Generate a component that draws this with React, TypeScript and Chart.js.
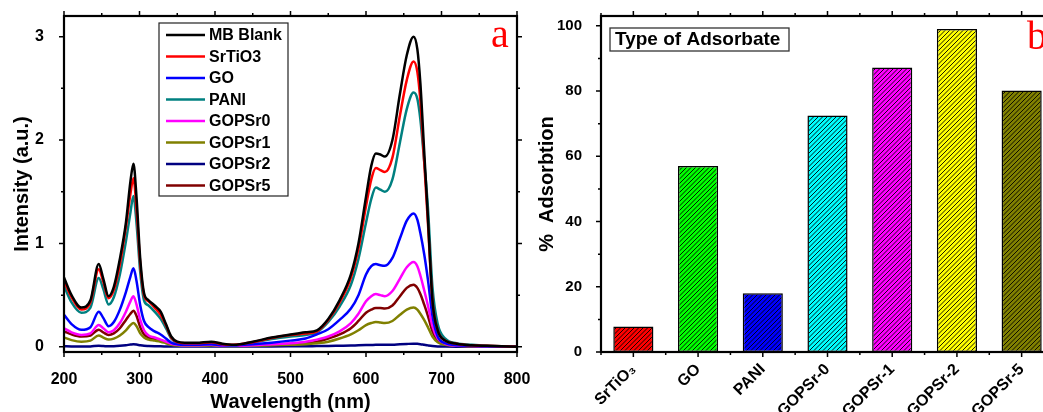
import React, { useEffect, useRef } from 'react';
import { Chart, registerables } from 'chart.js';

Chart.register(...registerables);

// ---------- Panel (a) data ----------
const WAVELENGTH = [200, 210, 223, 235, 246, 252, 259, 266, 274, 282, 288, 292, 296, 301, 306, 312, 320, 328, 335, 342, 350, 360, 375, 395, 410, 425, 450, 475, 500, 520, 535, 550, 565, 580, 590, 600, 607, 613, 619, 625, 635, 645, 654, 663, 668, 672, 677, 682, 688, 695, 705, 720, 740, 760, 800];
const MB_BLANK = [0.67, 0.50, 0.38, 0.45, 0.80, 0.66, 0.49, 0.58, 0.85, 1.20, 1.60, 1.77, 1.45, 0.85, 0.52, 0.45, 0.40, 0.34, 0.22, 0.10, 0.05, 0.04, 0.04, 0.05, 0.03, 0.02, 0.05, 0.09, 0.12, 0.14, 0.16, 0.27, 0.45, 0.70, 1.00, 1.45, 1.75, 1.87, 1.86, 1.84, 2.00, 2.45, 2.82, 3.00, 2.88, 2.55, 1.90, 1.25, 0.45, 0.16, 0.06, 0.03, 0.015, 0.01, 0.0];
const SRTIO3 = [0.64, 0.48, 0.36, 0.43, 0.75, 0.63, 0.47, 0.55, 0.80, 1.16, 1.48, 1.63, 1.34, 0.80, 0.50, 0.44, 0.38, 0.31, 0.21, 0.09, 0.045, 0.035, 0.035, 0.045, 0.025, 0.02, 0.045, 0.085, 0.115, 0.13, 0.15, 0.26, 0.43, 0.67, 0.95, 1.36, 1.62, 1.73, 1.71, 1.69, 1.83, 2.24, 2.58, 2.76, 2.66, 2.38, 1.80, 1.20, 0.45, 0.16, 0.06, 0.03, 0.015, 0.01, 0.0];
const GO = [0.31, 0.22, 0.165, 0.19, 0.34, 0.28, 0.20, 0.24, 0.36, 0.53, 0.68, 0.76, 0.64, 0.40, 0.25, 0.19, 0.15, 0.12, 0.08, 0.04, 0.025, 0.02, 0.02, 0.025, 0.015, 0.015, 0.025, 0.04, 0.06, 0.08, 0.12, 0.17, 0.26, 0.37, 0.50, 0.70, 0.78, 0.80, 0.79, 0.785, 0.86, 1.05, 1.22, 1.29, 1.23, 1.10, 0.90, 0.65, 0.30, 0.10, 0.035, 0.015, 0.01, 0.005, 0.0];
const PANI = [0.59, 0.43, 0.33, 0.38, 0.665, 0.56, 0.41, 0.48, 0.70, 1.02, 1.30, 1.46, 1.20, 0.72, 0.45, 0.40, 0.34, 0.27, 0.18, 0.08, 0.04, 0.03, 0.03, 0.04, 0.02, 0.015, 0.04, 0.075, 0.10, 0.115, 0.14, 0.24, 0.39, 0.60, 0.85, 1.20, 1.43, 1.54, 1.52, 1.50, 1.62, 1.98, 2.30, 2.46, 2.40, 2.20, 1.80, 1.35, 0.58, 0.22, 0.08, 0.035, 0.02, 0.01, 0.0];
const GOPSR0 = [0.18, 0.14, 0.115, 0.13, 0.21, 0.18, 0.14, 0.16, 0.23, 0.34, 0.44, 0.49, 0.41, 0.26, 0.16, 0.11, 0.09, 0.07, 0.05, 0.03, 0.02, 0.015, 0.015, 0.02, 0.01, 0.01, 0.015, 0.025, 0.035, 0.05, 0.07, 0.10, 0.15, 0.23, 0.32, 0.44, 0.49, 0.51, 0.50, 0.49, 0.54, 0.66, 0.77, 0.82, 0.78, 0.69, 0.55, 0.40, 0.20, 0.08, 0.03, 0.012, 0.008, 0.005, 0.0];
const GOPSR1 = [0.09, 0.065, 0.05, 0.06, 0.11, 0.09, 0.07, 0.08, 0.11, 0.16, 0.21, 0.23, 0.20, 0.13, 0.09, 0.07, 0.06, 0.05, 0.035, 0.02, 0.012, 0.01, 0.01, 0.012, 0.008, 0.008, 0.01, 0.015, 0.02, 0.025, 0.035, 0.05, 0.08, 0.12, 0.16, 0.21, 0.23, 0.24, 0.235, 0.23, 0.25, 0.31, 0.36, 0.38, 0.36, 0.32, 0.26, 0.19, 0.10, 0.045, 0.02, 0.01, 0.006, 0.004, 0.0];
const GOPSR2 = [0.005, 0.004, 0.003, 0.004, 0.01, 0.008, 0.005, 0.006, 0.01, 0.016, 0.022, 0.025, 0.022, 0.015, 0.01, 0.008, 0.006, 0.005, 0.004, 0.003, 0.002, 0.002, 0.002, 0.003, 0.002, 0.002, 0.003, 0.004, 0.005, 0.006, 0.007, 0.008, 0.01, 0.012, 0.015, 0.017, 0.018, 0.019, 0.019, 0.019, 0.021, 0.025, 0.028, 0.03, 0.029, 0.026, 0.02, 0.014, 0.008, 0.004, 0.002, 0.001, 0.001, 0.0, 0.0];
const GOPSR5 = [0.15, 0.12, 0.10, 0.11, 0.165, 0.14, 0.115, 0.13, 0.18, 0.26, 0.32, 0.35, 0.30, 0.19, 0.12, 0.09, 0.075, 0.06, 0.045, 0.025, 0.015, 0.012, 0.012, 0.015, 0.01, 0.01, 0.012, 0.02, 0.03, 0.035, 0.05, 0.08, 0.12, 0.18, 0.25, 0.33, 0.36, 0.375, 0.375, 0.37, 0.40, 0.49, 0.57, 0.60, 0.57, 0.51, 0.41, 0.30, 0.15, 0.06, 0.025, 0.01, 0.008, 0.005, 0.0];

const SERIES_LABELS = ['MB Blank', 'SrTiO3', 'GO', 'PANI', 'GOPSr0', 'GOPSr1', 'GOPSr2', 'GOPSr5'];
const SERIES_VALUES = [MB_BLANK, SRTIO3, GO, PANI, GOPSR0, GOPSR1, GOPSR2, GOPSR5];
const SERIES_COLORS = ['#000000', '#FF0000', '#0000FF', '#008080', '#FF00FF', '#808000', '#000080', '#800000'];
const SPEC_X_TICKS = [200, 300, 400, 500, 600, 700, 800];
const SPEC_X_MINOR = [250, 350, 450, 550, 650, 750];
const SPEC_Y_TICKS = [0, 1, 2, 3];
const SPEC_Y_MINOR = [0.5, 1.5, 2.5];

// ---------- Panel (b) data ----------
const BAR_CATEGORIES = ['SrTiO₃', 'GO', 'PANI', 'GOPSr-0', 'GOPSr-1', 'GOPSr-2', 'GOPSr-5'];
const BAR_VALUES = [7.8, 57, 18, 72.5, 87.2, 99, 80.2];
const BAR_COLORS = ['#FF0000', '#00FF00', '#0000FF', '#00FFFF', '#FF00FF', '#FFFF00', '#808000'];
const BAR_Y_TICKS = [0, 20, 40, 60, 80, 100];
const BAR_Y_MINOR = [10, 30, 50, 70, 90];

const FONT = "'Liberation Sans', Arial, sans-serif";
const SERIF = "'Liberation Serif', 'Times New Roman', serif";

function hatch(color: string): CanvasPattern | string {
  const s = 9;
  const c = document.createElement('canvas');
  c.width = s;
  c.height = s;
  const g = c.getContext('2d');
  if (!g) return color;
  g.fillStyle = color;
  g.fillRect(0, 0, s, s);
  g.strokeStyle = '#000';
  g.lineWidth = 0.9;
  for (let k = -2; k <= 6; k++) {
    const cc = k * 4.5;
    g.beginPath();
    g.moveTo(cc - s, s + s);
    g.lineTo(cc + s + s, -s);
    g.stroke();
  }
  const p = g.createPattern(c, 'repeat');
  return p || color;
}

function framePlugin(xMajor: number[], xMinor: number[], yMajor: number[], yMinor: number[]) {
  return {
    id: 'frameTicks',
    afterDraw(chart: any) {
      const { ctx, chartArea: a, scales } = chart;
      const xs = scales.x;
      const ys = scales.y;
      ctx.save();
      ctx.strokeStyle = '#000';
      ctx.lineWidth = 1.5;
      const tx = (vals: number[], len: number) => {
        vals.forEach((v) => {
          const p = xs.getPixelForValue(v);
          ctx.beginPath();
          ctx.moveTo(p, a.bottom);
          ctx.lineTo(p, a.bottom + len);
          ctx.moveTo(p, a.top);
          ctx.lineTo(p, a.top - len);
          ctx.stroke();
        });
      };
      const ty = (vals: number[], len: number) => {
        vals.forEach((v) => {
          const p = ys.getPixelForValue(v);
          ctx.beginPath();
          ctx.moveTo(a.left, p);
          ctx.lineTo(a.left - len, p);
          ctx.moveTo(a.right, p);
          ctx.lineTo(a.right + len, p);
          ctx.stroke();
        });
      };
      tx(xMajor, 5);
      tx(xMinor, 3);
      ty(yMajor, 5);
      ty(yMinor, 3);
      ctx.lineWidth = 2.2;
      ctx.strokeRect(a.left, a.top, a.right - a.left, a.bottom - a.top);
      ctx.restore();
    },
  };
}

function SpectraChart() {
  const ref = useRef<HTMLCanvasElement>(null);
  useEffect(() => {
    if (!ref.current) return;
    const legendPlugin = {
      id: 'boxLegend',
      afterDraw(chart: any) {
        const { ctx } = chart;
        ctx.save();
        ctx.fillStyle = '#fff';
        ctx.fillRect(159, 23, 129, 173);
        ctx.strokeStyle = '#222';
        ctx.lineWidth = 1.2;
        ctx.strokeRect(159, 23, 129, 173);
        ctx.font = `bold 16px ${FONT}`;
        ctx.textBaseline = 'middle';
        ctx.textAlign = 'left';
        chart.data.datasets.forEach((ds: any, i: number) => {
          const y = 35 + i * 21.5;
          ctx.strokeStyle = ds.borderColor;
          ctx.lineWidth = 2.5;
          ctx.beginPath();
          ctx.moveTo(166, y);
          ctx.lineTo(205, y);
          ctx.stroke();
          ctx.fillStyle = '#000';
          ctx.fillText(ds.label, 209, y + 1);
        });
        ctx.fillStyle = '#FF0000';
        ctx.font = `40px ${SERIF}`;
        ctx.textBaseline = 'alphabetic';
        ctx.fillText('a', 491, 47);
        ctx.restore();
      },
    };
    const chart = new Chart(ref.current, {
      type: 'line',
      data: {
        datasets: SERIES_LABELS.map((label, i) => ({
          label,
          data: WAVELENGTH.map((w, j) => ({ x: w, y: SERIES_VALUES[i][j] })),
          borderColor: SERIES_COLORS[i],
          backgroundColor: SERIES_COLORS[i],
          borderWidth: 2.5,
          pointRadius: 0,
          cubicInterpolationMode: 'monotone' as const,
          fill: false,
        })),
      },
      options: {
        responsive: false,
        animation: false,
        devicePixelRatio: 1,
        layout: { padding: { left: 0, right: 13, top: 16, bottom: 0 } },
        plugins: { legend: { display: false }, tooltip: { enabled: false } },
        scales: {
          x: {
            type: 'linear',
            min: 200,
            max: 800,
            grid: { display: false },
            border: { display: false },
            afterBuildTicks: (s: any) => {
              s.ticks = SPEC_X_TICKS.map((v) => ({ value: v }));
            },
            afterFit: (s: any) => {
              s.height = 60;
              s.paddingLeft = 0;
              s.paddingRight = 0;
            },
            ticks: { color: '#000', font: { family: FONT, size: 16, weight: 'bold' }, padding: 10, maxRotation: 0 },
            title: {
              display: true,
              text: 'Wavelength (nm)',
              color: '#000',
              font: { family: FONT, size: 20, weight: 'bold', lineHeight: 1 },
              padding: { top: 0, bottom: 0 },
            },
          },
          y: {
            type: 'linear',
            min: -0.05,
            max: 3.2,
            grid: { display: false },
            border: { display: false },
            afterBuildTicks: (s: any) => {
              s.ticks = SPEC_Y_TICKS.map((v) => ({ value: v }));
            },
            afterFit: (s: any) => {
              s.width = 64;
              s.paddingTop = 0;
              s.paddingBottom = 0;
            },
            ticks: { color: '#000', font: { family: FONT, size: 16, weight: 'bold' }, padding: 12 },
            title: {
              display: true,
              text: 'Intensity (a.u.)',
              color: '#000',
              font: { family: FONT, size: 20, weight: 'bold', lineHeight: 1.2 },
              padding: { top: 10, bottom: 0 },
            },
          },
        },
      },
      plugins: [framePlugin(SPEC_X_TICKS, SPEC_X_MINOR, SPEC_Y_TICKS, SPEC_Y_MINOR), legendPlugin],
    } as any);
    return () => chart.destroy();
  }, []);
  return (
    <canvas
      ref={ref}
      width={530}
      height={412}
      style={{ position: 'absolute', left: 0, top: 0, width: 530, height: 412 }}
    />
  );
}

function BarsChart() {
  const ref = useRef<HTMLCanvasElement>(null);
  useEffect(() => {
    if (!ref.current) return;
    const xMajor = BAR_CATEGORIES.map((_, i) => i);
    const xMinor = BAR_CATEGORIES.map((_, i) => i - 0.5).concat([BAR_CATEGORIES.length - 0.5]);
    const labelPlugin = {
      id: 'boxLabel',
      afterDraw(chart: any) {
        const { ctx } = chart;
        ctx.save();
        ctx.fillStyle = '#fff';
        ctx.fillRect(80, 28, 179, 23);
        ctx.strokeStyle = '#333';
        ctx.lineWidth = 1.3;
        ctx.strokeRect(80, 28, 179, 23);
        ctx.fillStyle = '#000';
        ctx.font = `bold 19px ${FONT}`;
        ctx.textBaseline = 'middle';
        ctx.textAlign = 'left';
        ctx.fillText('Type of Adsorbate', 85, 40);
        ctx.fillStyle = '#FF0000';
        ctx.font = `40px ${SERIF}`;
        ctx.textBaseline = 'alphabetic';
        ctx.fillText('b', 497, 49);
        ctx.restore();
      },
    };
    const chart = new Chart(ref.current, {
      type: 'bar',
      data: {
        labels: BAR_CATEGORIES,
        datasets: [
          {
            label: '% Adsorbtion',
            data: BAR_VALUES,
            backgroundColor: BAR_COLORS.map((c) => hatch(c)),
            borderColor: '#000',
            borderWidth: 1.5,
            borderSkipped: false,
            barPercentage: 0.62,
            categoryPercentage: 1,
          },
        ],
      },
      options: {
        responsive: false,
        animation: false,
        devicePixelRatio: 1,
        layout: { padding: { left: 0, right: 16, top: 16, bottom: 0 } },
        plugins: { legend: { display: false }, tooltip: { enabled: false } },
        scales: {
          x: {
            type: 'category',
            offset: true,
            grid: { display: false },
            border: { display: false },
            afterFit: (s: any) => {
              s.height = 60;
              s.paddingLeft = 0;
              s.paddingRight = 0;
            },
            ticks: {
              color: '#000',
              font: { family: FONT, size: 16, weight: 'bold' },
              minRotation: 45,
              maxRotation: 45,
              padding: 0,
              autoSkip: false,
            },
          },
          y: {
            type: 'linear',
            min: 0,
            max: 103,
            grid: { display: false },
            border: { display: false },
            afterBuildTicks: (s: any) => {
              s.ticks = BAR_Y_TICKS.map((v) => ({ value: v }));
            },
            afterFit: (s: any) => {
              s.width = 71;
              s.paddingTop = 0;
              s.paddingBottom = 0;
            },
            ticks: { color: '#000', font: { family: FONT, size: 15, weight: 'bold' }, padding: 11 },
            title: {
              display: true,
              text: '%  Adsorbtion',
              color: '#000',
              font: { family: FONT, size: 20, weight: 'bold', lineHeight: 1.2 },
              padding: { top: 5, bottom: 0 },
            },
          },
        },
      },
      plugins: [framePlugin(xMajor, xMinor, BAR_Y_TICKS, BAR_Y_MINOR), labelPlugin],
    } as any);
    return () => chart.destroy();
  }, []);
  return (
    <canvas
      ref={ref}
      width={540}
      height={412}
      style={{ position: 'absolute', left: 530, top: 0, width: 540, height: 412 }}
    />
  );
}

export default function App() {
  return (
    <div
      style={{
        position: 'fixed',
        left: 0,
        top: 0,
        width: 1043,
        height: 412,
        overflow: 'hidden',
        background: '#fff',
      }}
    >
      <SpectraChart />
      <BarsChart />
    </div>
  );
}
